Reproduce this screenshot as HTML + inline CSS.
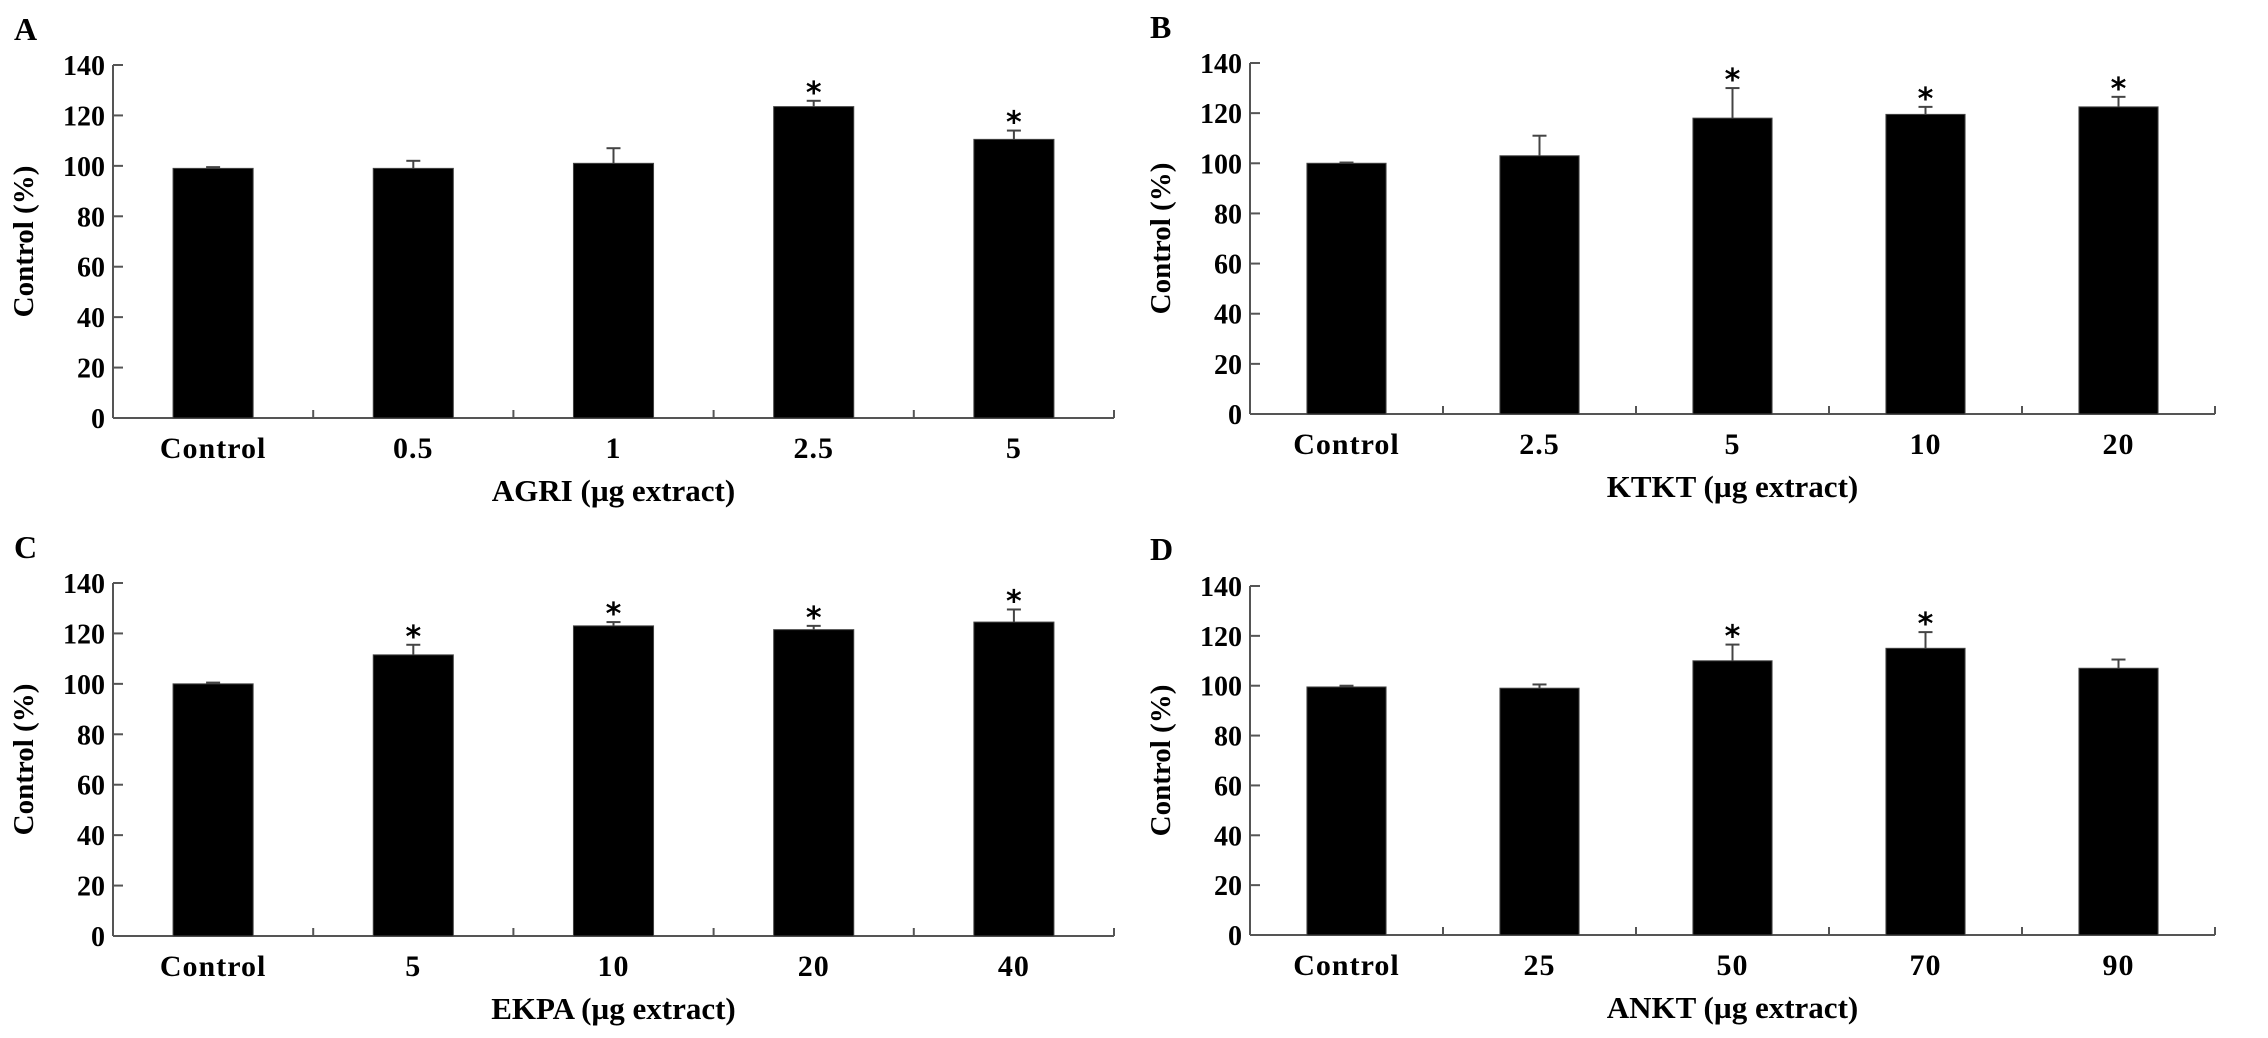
<!DOCTYPE html>
<html><head><meta charset="utf-8">
<style>
body{margin:0;background:#fff;}
svg{display:block;font-family:"Liberation Serif",serif;}
</style></head>
<body>
<svg id="fig" width="2268" height="1038" viewBox="0 0 2268 1038"></svg>
<script>
const catsA=["Control","0.5","1","2.5","5"];
const valsA=[99,99,101,123.5,110.5];
const errA=[0.5,3,6,2.3,3.5];
const sigA=[0,0,0,1,1];
const catsB=["Control","2.5","5","10","20"];
const valsB=[100,103,118,119.5,122.5];
const errB=[0.3,8,12,3,4];
const sigB=[0,0,1,1,1];
const catsC=["Control","5","10","20","40"];
const valsC=[100,111.5,123,121.5,124.5];
const errC=[0.5,4,1.5,1.5,5];
const sigC=[0,1,1,1,1];
const catsD=["Control","25","50","70","90"];
const valsD=[99.5,99,110,115,107];
const errD=[0.5,1.5,6.5,6.5,3.5];
const sigD=[0,0,1,1,0];
const yTicks=[0,20,40,60,80,100,120,140];

const NS="http://www.w3.org/2000/svg";
const svg=document.getElementById('fig');
function mk(tag,attrs,parent){const e=document.createElementNS(NS,tag);for(const k in attrs)e.setAttribute(k,attrs[k]);(parent||svg).appendChild(e);return e;}

const panels=[
 {id:'a',letter:'A',lx:14,ly:40,x0:113,x1:1114,y0:418,yTop:65,bwf:0.40,title:'AGRI (µg extract)',cats:catsA,vals:valsA,err:errA,sig:sigA},
 {id:'b',letter:'B',lx:1150,ly:38,x0:1250,x1:2215,y0:414,yTop:63,bwf:0.41,title:'KTKT (µg extract)',cats:catsB,vals:valsB,err:errB,sig:sigB},
 {id:'c',letter:'C',lx:14,ly:558,x0:113,x1:1114,y0:936,yTop:583,bwf:0.40,title:'EKPA (µg extract)',cats:catsC,vals:valsC,err:errC,sig:sigC},
 {id:'d',letter:'D',lx:1150,ly:560,x0:1250,x1:2215,y0:935,yTop:586,bwf:0.41,title:'ANKT (µg extract)',cats:catsD,vals:valsD,err:errD,sig:sigD}
];

panels.forEach(p=>{
  const g=mk('g',{});
  
  
  const n=p.cats.length;
  const step=(p.x1-p.x0)/n;
  const bw=step*p.bwf;
  const yS=v=>p.y0-(v/140)*(p.y0-p.yTop);
  const xC=i=>p.x0+step*(i+0.5);
  const L=mk('text',{x:p.lx,y:p.ly,'font-size':32,'font-weight':'bold'},g);L.textContent=p.letter;
  
  
  const ya=mk('line',{x1:p.x0,y1:p.yTop,x2:p.x0,y2:p.y0,stroke:'#555','stroke-width':2},g);
  
  
  yTicks.forEach(t=>{
    const y=yS(t);
    mk('line',{x1:p.x0,y1:y,x2:p.x0+10,y2:y,stroke:'#555','stroke-width':2},g);
    const tt=mk('text',{x:p.x0-8,y:y+10,'font-size':28,'font-weight':'bold','text-anchor':'end'},g);
    tt.textContent=t;
    
    
  });
  const yt=mk('text',{x:0,y:0,'font-size':29,'font-weight':'bold','text-anchor':'middle',transform:`translate(${p.x0-80},${(p.y0+p.yTop)/2}) rotate(-90)`},g);
  yt.textContent='Control (%)';
  
  
  const xa=mk('line',{x1:p.x0,y1:p.y0,x2:p.x1,y2:p.y0,stroke:'#555','stroke-width':2},g);
  
  
  for(let i=1;i<=n;i++){const x=p.x0+step*i;mk('line',{x1:x,y1:p.y0,x2:x,y2:p.y0-8,stroke:'#555','stroke-width':2},g);}
  p.cats.forEach((c,i)=>{
    const x=xC(i);
    const v=p.vals[i],e=p.err[i];
    const b=mk('rect',{x:x-bw/2,y:yS(v),width:bw,height:p.y0-yS(v),fill:'#000',stroke:'#444','stroke-width':1},g);
    
    
    const ye=yS(v+e);
    mk('line',{x1:x,y1:yS(v),x2:x,y2:ye,stroke:'#444','stroke-width':2},g);
    mk('line',{x1:x-7,y1:ye,x2:x+7,y2:ye,stroke:'#444','stroke-width':2},g);
    if(p.sig[i]){
      const s=mk('text',{x:x,y:ye+2,'font-size':30,'font-weight':'bold','text-anchor':'middle',
        'font-family':'"DejaVu Sans",sans-serif'},g);
      s.textContent='*';
      
      
    }
    const lt=mk('text',{x:x,y:p.y0+40,'font-size':30,'font-weight':'bold','text-anchor':'middle','letter-spacing':1},g);
    lt.textContent=c;
    
    
  });
  const xt=mk('text',{x:(p.x0+p.x1)/2,y:p.y0+83,'font-size':31,'font-weight':'bold','text-anchor':'middle'},g);
  xt.textContent=p.title;
  
  
});
</script>
</body></html>
